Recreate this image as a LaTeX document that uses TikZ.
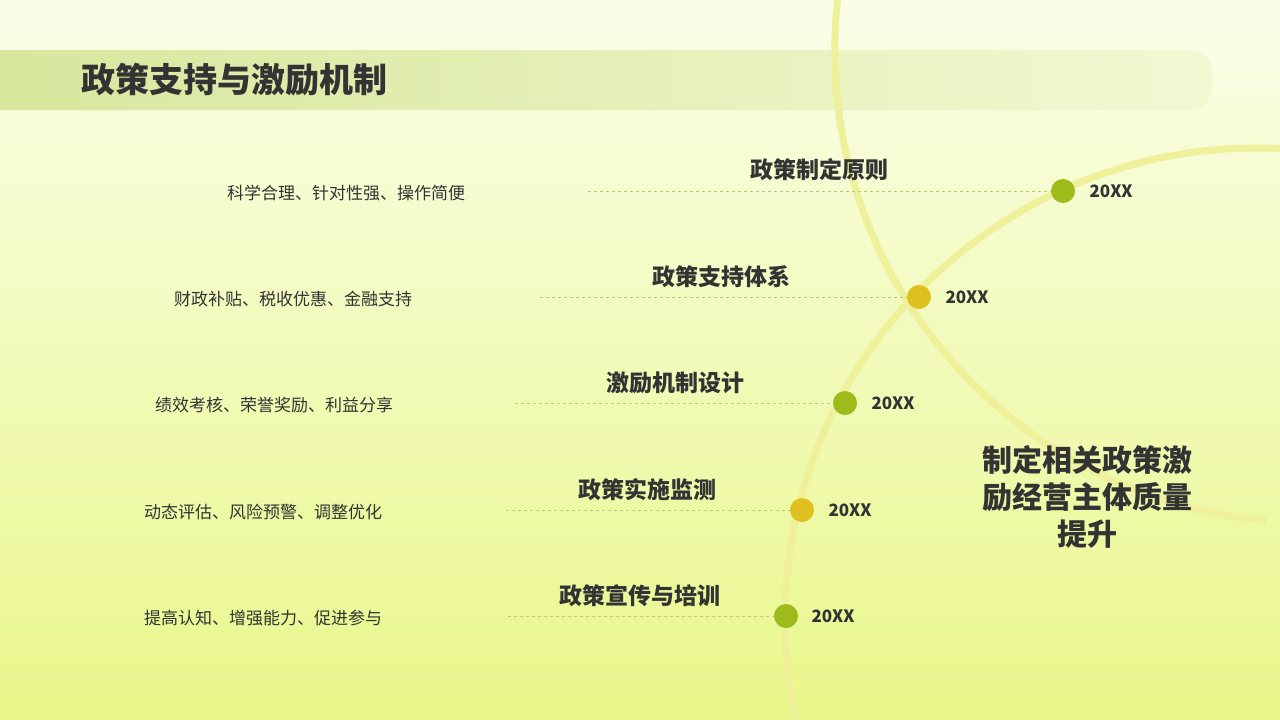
\documentclass[tikz,border=0pt]{standalone}
\usepackage{fontspec}
\setmainfont{Noto Sans CJK SC}
\newfontfamily\cjkb{Noto Sans CJK SC}[BoldFont={* Bold}]
\usetikzlibrary{shadings}
\definecolor{bgtop}{HTML}{FBFDE9}
\definecolor{bgbot}{HTML}{E9F78A}
\definecolor{barl}{HTML}{D6E79C}
\definecolor{barr}{HTML}{F2F8D2}
\definecolor{arcc}{HTML}{EEF09A}
\definecolor{dgreen}{HTML}{9DBB1A}
\definecolor{dyellow}{HTML}{DFC021}
\definecolor{txt}{HTML}{333333}
\definecolor{dashc}{HTML}{B8CC78}
\tikzset{
 dotg/.style={circle,fill=dgreen,minimum size=24pt,inner sep=0pt},
 doty/.style={circle,fill=dyellow,minimum size=24pt,inner sep=0pt},
 head/.style={font=\fontsize{23}{26}\selectfont\bfseries,text=txt},
 desc/.style={font=\fontsize{17}{20}\selectfont,text=txt},
 yr/.style={font=\fontsize{17}{20}\selectfont\bfseries,text=txt,anchor=west},
 dl/.style={dashc,dashed,line width=0.8pt},
}
\begin{document}
\begin{tikzpicture}[x=1pt,y=-1pt]
\shade[top color=bgtop,bottom color=bgbot] (0,0) rectangle (1280,720);
\useasboundingbox (0,0) rectangle (1280,720);
\shade[left color=barl,right color=barr,rounded corners=22pt] (-30,50) rectangle (1212,110);
\node[anchor=west,font=\fontsize{34}{40}\selectfont\bfseries,text=txt] (title) at (78,80) {政策支持与激励机制};
\draw[arcc,line width=7pt] (1257,620) ++(-85:100) arc[start angle=95,end angle=259,radius=472] ;
\begin{scope}
\clip (0,0) rectangle (1280,720);
\draw[arcc,line width=7pt] (1257,620) circle[radius=472];
\end{scope}
% rows
\node[dotg] (d1) at (1063,191) {};
\node[doty] (d2) at (919,297) {};
\node[dotg] (d3) at (845,403) {};
\node[doty] (d4) at (802,510) {};
\node[dotg] (d5) at (786,616) {};
\coordinate (s1) at (588,191);
\coordinate (s2) at (540,297);
\coordinate (s3) at (515,403);
\coordinate (s4) at (506,510);
\coordinate (s5) at (508,616);
\draw[dl] (s1) -- (d1); \draw[dl] (s2) -- (d2); \draw[dl] (s3) -- (d3);
\draw[dl] (s4) -- (d4); \draw[dl] (s5) -- (d5);
\node[yr] (y1) at (1086,191) {20XX};
\node[yr] (y2) at (942,297) {20XX};
\node[yr] (y3) at (868,403) {20XX};
\node[yr] (y4) at (825,510) {20XX};
\node[yr] (y5) at (808,616) {20XX};
\node[head] (h1) at (819,170) {政策制定原则};
\node[head] (h2) at (721,277) {政策支持体系};
\node[head] (h3) at (675,383) {激励机制设计};
\node[head] (h4) at (647,490) {政策实施监测};
\node[head] (h5) at (640,596) {政策宣传与培训};
\node[desc] (t1) at (346,193) {科学合理、针对性强、操作简便};
\node[desc] (t2) at (293,299) {财政补贴、税收优惠、金融支持};
\node[desc] (t3) at (274,405) {绩效考核、荣誉奖励、利益分享};
\node[desc] (t4) at (263,512) {动态评估、风险预警、调整优化};
\node[desc] (t5) at (263,618) {提高认知、增强能力、促进参与};
\node[font=\fontsize{30}{37}\selectfont\bfseries,text=txt,align=center] (main) at (1087,497) {制定相关政策激\\励经营主体质量\\提升};
\end{tikzpicture}
\end{document}
